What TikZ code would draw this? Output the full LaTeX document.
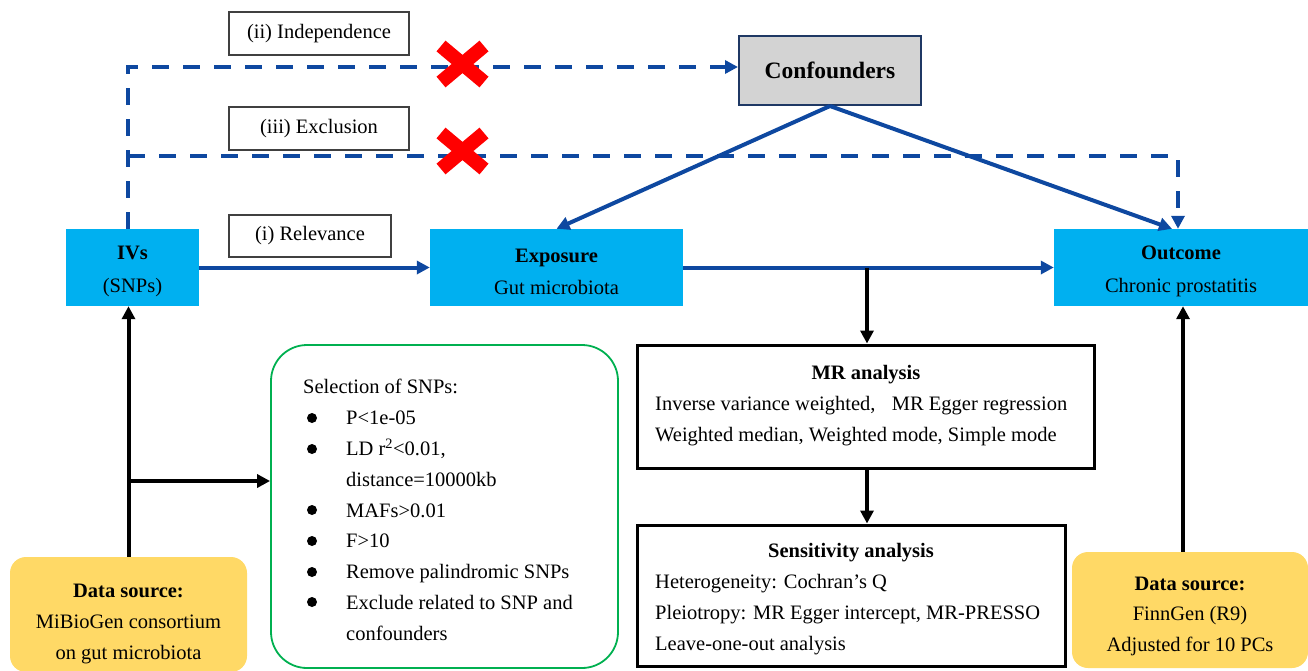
\documentclass[tikz,border=0pt]{standalone}
\usepackage{fontspec}
\setmainfont{Liberation Serif}
\usetikzlibrary{arrows.meta}
\definecolor{ivcyan}{RGB}{0,176,240}
\definecolor{srcyel}{RGB}{255,217,102}
\definecolor{selgreen}{RGB}{0,176,80}
\definecolor{pathblue}{RGB}{14,72,160}
\definecolor{confnavy}{RGB}{31,56,100}
\definecolor{confgray}{RGB}{211,211,211}
\newcommand{\fs}{\fontsize{20.5}{30.8}\selectfont}
\newcommand{\ind}{\hspace*{43pt}}
\newcommand{\dn}[1]{\rule{0pt}{#1}}
\tikzset{
  varbox/.style={fill=ivcyan,minimum height=77pt,align=center,inner sep=0pt},
  lbl/.style={draw=black!75,line width=1.5pt,fill=white,minimum width=180pt,minimum height=43pt,inner sep=0pt},
  srcbox/.style={fill=srcyel,rounded corners=16pt,align=center,inner sep=0pt},
  anbox/.style={draw,line width=3pt,inner sep=0pt},
  txt/.style={inner sep=0pt,align=left,anchor=west},
  bl/.style={draw=pathblue,line width=4pt,-{Triangle[length=13pt,width=13pt]}},
  dsh/.style={bl,dash pattern=on 17pt off 14pt},
  blk/.style={line width=4pt,-{Triangle[length=13pt,width=13pt]}},
  nope/.style={draw=red,line width=14pt},
}
\begin{document}
\begin{tikzpicture}[x=1pt,y=-1pt,every node/.style={font=\fs}]
  \useasboundingbox (0,0) rectangle (1308,670);
  % main row
  \node[varbox,minimum width=133pt] (ivs) at (132.5,267.5) {\dn{22pt}\textbf{IVs}\\[2pt](SNPs)};
  \node[varbox,minimum width=253pt] (expo) at (556.5,267.5) {\dn{22pt}\textbf{Exposure}\\[2pt]Gut microbiota};
  \node[varbox,minimum width=254pt] (outc) at (1181,267.5) {\dn{22pt}\textbf{Outcome}\\[2pt]Chronic prostatitis};
  \node[draw=confnavy,line width=2pt,fill=confgray,minimum width=182pt,minimum height=69pt,
    font=\fontsize{23.5}{28}\selectfont\bfseries] (conf) at (830,70.5) {Confounders};
  % assumptions
  \node[lbl] (indep) at (319,33.5) {(ii) Independence};
  \node[lbl] (excl) at (319,128.5) {(iii) Exclusion};
  \node[lbl,minimum width=162pt,minimum height=42pt] (relev) at (310,236) {(i) Relevance};
  \draw[bl] (ivs.east) -- (expo.west);
  \draw[bl] (expo.east) -- (outc.west);
  \draw[bl] (conf.south) -- (expo.north);
  \draw[bl] (conf.south) -- ([xshift=-9pt]outc.north);
  \coordinate (ivtop) at ([xshift=-4.5pt]ivs.north);
  \coordinate (exbr) at (128,156);
  \draw[dsh] (ivtop) |- ([yshift=3.5pt]conf.west);
  \draw[dsh] (exbr) -| ([xshift=-3pt]outc.north);
  \draw[nope] (441,46) -- (484,82);
  \draw[nope] (441,82) -- (484,46);
  \draw[nope] (441,133) -- (484,169);
  \draw[nope] (441,169) -- (484,133);
  % data sources
  \node[srcbox,minimum width=237pt,minimum height=115pt] (srcL) at (128.5,614.5)
    {\dn{32pt}\textbf{Data source:}\\MiBioGen consortium\\on gut microbiota};
  \node[srcbox,minimum width=236pt,minimum height=116pt] (srcR) at (1190,610)
    {\dn{26pt}\textbf{Data source:}\\FinnGen (R9)\\Adjusted for 10 PCs};
  % SNP selection
  \node[draw=selgreen,line width=1.8pt,rounded corners=36pt,minimum width=347pt,minimum height=323pt] (sel) at (444.5,506.5) {};
  \node[txt] (seltext) at (303,510) {Selection of SNPs:\\
    \ind P<1e-05\\
    \ind LD r\textsuperscript{2}<0.01,\\
    \ind distance=10000kb\\
    \ind MAFs>0.01\\
    \ind F>10\\
    \ind Remove palindromic SNPs\\
    \ind Exclude related to SNP and\\
    \ind confounders};
  \foreach \y in {418,449,510,541,572,602}
    \fill (312,\y) circle (5pt);
  % analyses
  \node[anbox,minimum width=457pt,minimum height=123pt] (mr) at (865.5,406.5) {};
  \node[font=\fs\bfseries] (mrhead) at (866,375) {MR analysis};
  \node[txt] (mrtext) at (655,421) {Inverse variance weighted,\hspace{0.8em}MR Egger regression\\
    Weighted median, Weighted mode, Simple mode};
  \node[anbox,minimum width=428pt,minimum height=141pt] (sens) at (851,595.5) {};
  \node[font=\fs\bfseries] (senshead) at (851,553) {Sensitivity analysis};
  \node[txt] (senstext) at (655,614.5) {Heterogeneity: Cochran’s Q\\
    Pleiotropy: MR Egger intercept, MR-PRESSO\\
    Leave-one-out analysis};
  % black connectors
  \coordinate (stem) at (867,267.5);
  \draw[blk] (stem) -- (stem |- mr.north);
  \draw[blk] (stem |- mr.south) -- (stem |- sens.north);
  \draw[blk] (srcL.north) -- (srcL.north |- ivs.south);
  \coordinate (brn) at (128.5,481);
  \draw[blk] (brn) -- (brn -| sel.west);
  \coordinate (rft) at ([xshift=-7pt]srcR.north);
  \draw[blk] (rft) -- (rft |- outc.south);
\end{tikzpicture}
\end{document}
